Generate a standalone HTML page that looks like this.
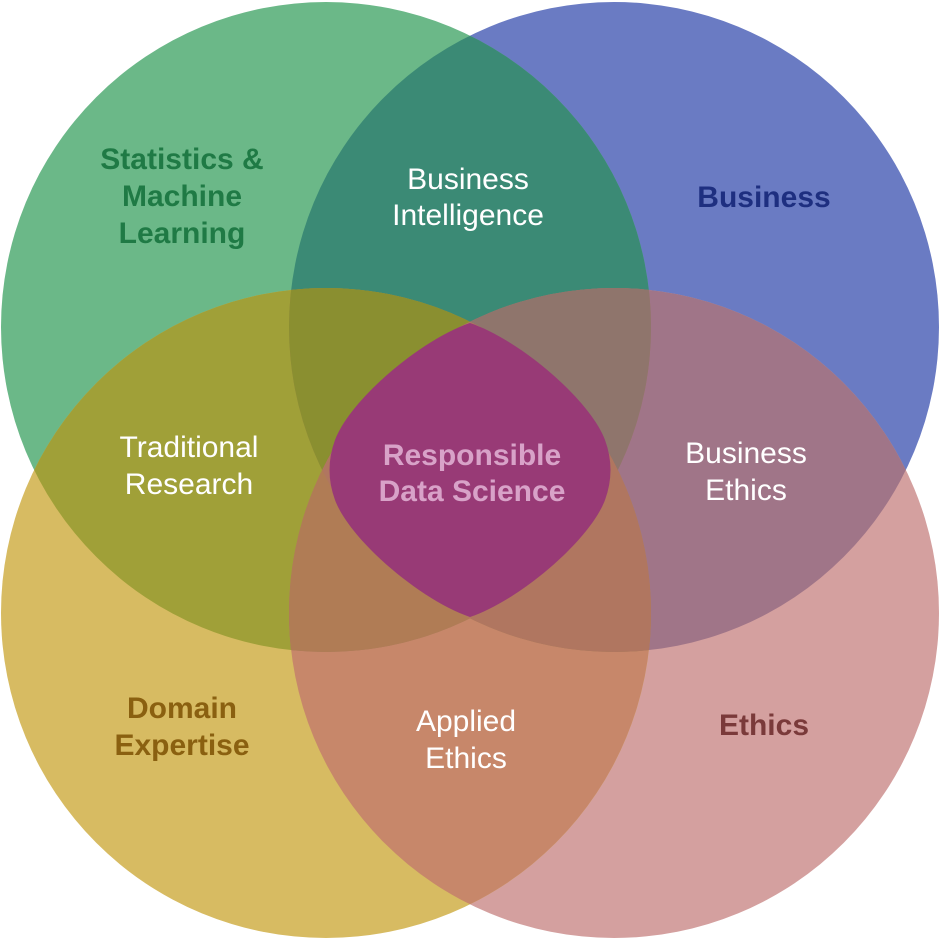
<!DOCTYPE html>
<html><head><meta charset="utf-8"><style>
html,body{margin:0;padding:0;background:#fff;}
svg{display:block;}
text{font-family:"Liberation Sans",Arial,sans-serif;font-size:30px;text-anchor:middle;}
.b{font-weight:bold;}
</style></head><body>
<svg width="940" height="939" viewBox="0 0 940 939" xmlns="http://www.w3.org/2000/svg">
<defs>
<clipPath id="cG"><circle cx="326" cy="327" r="325"/></clipPath>
<clipPath id="cB"><circle cx="614" cy="327" r="325"/></clipPath>
<clipPath id="cY"><circle cx="326" cy="613" r="325"/></clipPath>
<clipPath id="cP"><circle cx="614" cy="613" r="325"/></clipPath>
</defs>
<circle cx="614" cy="327" r="325" fill="#6a7bc3"/>
<circle cx="326" cy="327" r="325" fill="#6bb888"/>
<circle cx="614" cy="613" r="325" fill="#d4a09f"/>
<circle cx="326" cy="613" r="325" fill="#d7bb62"/>
<g clip-path="url(#cG)"><circle cx="614" cy="327" r="325" fill="#3b8a75"/></g>
<g clip-path="url(#cG)"><circle cx="326" cy="613" r="325" fill="#a0a038"/></g>
<g clip-path="url(#cB)"><circle cx="614" cy="613" r="325" fill="#a07588"/></g>
<g clip-path="url(#cY)"><circle cx="614" cy="613" r="325" fill="#c7876a"/></g>
<g clip-path="url(#cG)"><circle cx="614" cy="613" r="325" fill="#a07a60"/></g>
<g clip-path="url(#cB)"><circle cx="326" cy="613" r="325" fill="#a08050"/></g>
<g clip-path="url(#cG)"><g clip-path="url(#cB)"><circle cx="326" cy="613" r="325" fill="#8a8f30"/></g></g>
<g clip-path="url(#cG)"><g clip-path="url(#cB)"><circle cx="614" cy="613" r="325" fill="#8f756c"/></g></g>
<g clip-path="url(#cG)"><g clip-path="url(#cY)"><circle cx="614" cy="613" r="325" fill="#b07c55"/></g></g>
<g clip-path="url(#cB)"><g clip-path="url(#cY)"><circle cx="614" cy="613" r="325" fill="#b07660"/></g></g>
<path d="M470,323 C520,340 590,400 605,440 Q616,470 605,500 C590,540 520,600 470,617 C420,600 350,540 335,500 Q324,470 335,440 C350,400 420,340 470,323Z" fill="#983a76"/>
<text x="182" y="169" class="b" fill="#1f7a45">Statistics &amp;</text>
<text x="182" y="206" class="b" fill="#1f7a45">Machine</text>
<text x="182" y="243" class="b" fill="#1f7a45">Learning</text>
<text x="764" y="207" class="b" fill="#1e2f80">Business</text>
<text x="182" y="718" class="b" fill="#8a6010">Domain</text>
<text x="182" y="755" class="b" fill="#8a6010">Expertise</text>
<text x="764" y="735" class="b" fill="#7a3a3a">Ethics</text>
<g fill="#fff">
<text x="468" y="189">Business</text><text x="468" y="225">Intelligence</text>
<text x="189" y="457">Traditional</text><text x="189" y="494">Research</text>
<text x="746" y="463">Business</text><text x="746" y="500">Ethics</text>
<text x="466" y="731">Applied</text><text x="466" y="768">Ethics</text>
</g>
<text x="472" y="465" class="b" fill="#d8a2c8">Responsible</text>
<text x="472" y="501" class="b" fill="#d8a2c8">Data Science</text>
</svg>
</body></html>
